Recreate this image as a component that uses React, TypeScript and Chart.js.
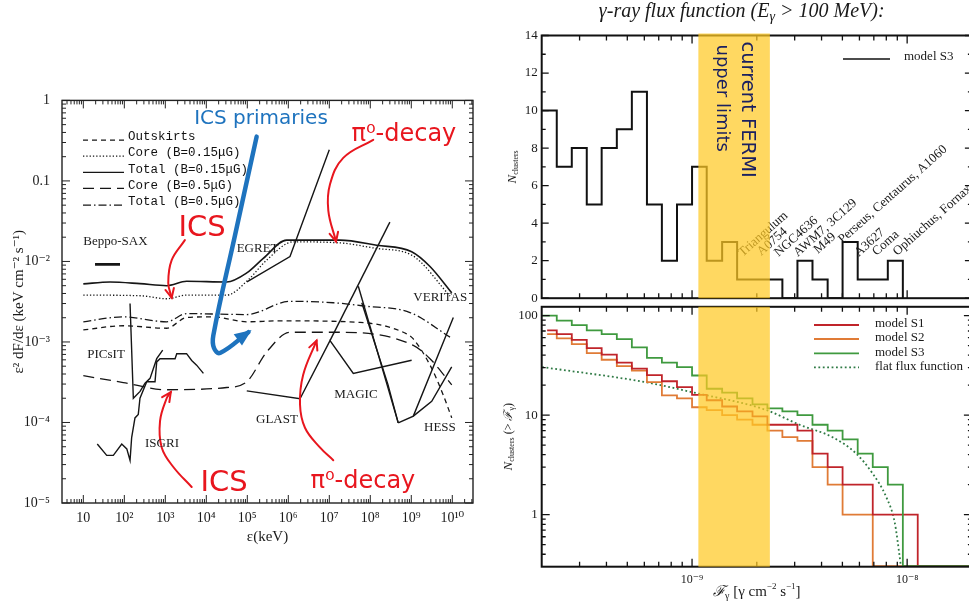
import React, { useEffect, useRef } from "react";
import { Chart, registerables } from "chart.js";

Chart.register(...registerables);

const SERIF = "'Liberation Serif','DejaVu Serif','Times New Roman',serif";
const MONO = "'Liberation Mono','DejaVu Sans Mono',monospace";
const SANS = "'DejaVu Sans','Open Sans',sans-serif";
const RED = "#e8161e";
const BLUE = "#1e73be";

// ================= LEFT PANEL DATA (energy keV, e^2 dF/de keV cm^-2 s^-1) =================
const energyTickValues = [10, 1e2, 1e3, 1e4, 1e5, 1e6, 1e7, 1e8, 1e9, 1e10];
const fluxTickValues = [1e-5, 1e-4, 1e-3, 1e-2, 0.1, 1];

const outskirtsE = [10, 94.6, 1080, 3300, 14800, 97000, 630000, 5.6e7, 7.7e8, 1.12e9, 3.15e9, 6.0e9, 9.7e9];
const outskirtsF = [1.41e-3, 1.59e-3, 1.48e-3, 2.01e-3, 2.05e-3, 1.78e-3, 1.83e-3, 1.75e-3, 1.26e-3, 1.09e-3, 4.7e-4, 2.2e-4, 1.14e-4];

const coreLowBE = [10, 241, 1080, 3300, 31500, 106000, 297000, 1.32e6, 1.82e7, 1.43e8, 1.02e9, 8.8e9];
const coreLowBF = [3.82e-3, 3.75e-3, 3.44e-3, 3.82e-3, 3.82e-3, 5.93e-3, 0.0104, 0.0175, 0.017, 0.0145, 0.012, 3.72e-3];

const totalLowBE = [10, 44.8, 241, 1080, 3300, 31500, 97000, 245000, 910000, 1.82e7, 1.43e8, 1.02e9, 2.86e9, 9.7e9];
const totalLowBF = [5.26e-3, 5.56e-3, 5.3e-3, 5.0e-3, 5.67e-3, 5.56e-3, 7.2e-3, 0.0109, 0.0184, 0.0184, 0.0159, 0.0132, 8.65e-3, 4.07e-3];

const coreHighBE = [10, 94.6, 1080, 31500, 97000, 297000, 1.1e6, 1.5e7, 1.12e9, 2.86e9, 9.7e9];
const coreHighBF = [3.81e-4, 3.13e-4, 2.55e-4, 2.72e-4, 3.2e-4, 7.5e-4, 1.32e-3, 1.32e-3, 9.06e-4, 6.2e-4, 2.93e-4];

const totalHighBE = [10, 94.6, 1080, 3300, 97000, 1.1e6, 1.25e7, 6.75e7, 9.3e8, 8.8e9];
const totalHighBF = [1.78e-3, 2.05e-3, 1.78e-3, 2.25e-3, 2.19e-3, 3.2e-3, 3.07e-3, 2.8e-3, 2.32e-3, 1.15e-3];

// instrument sensitivities
const beppoE = [19.3, 78.5];
const beppoF = [9.2e-3, 9.2e-3];
const picsitE = [138, 166, 242, 320, 424, 617, 864];
const picsitF = [3.0e-3, 2.0e-4, 2.43e-4, 3.07e-4, 3.53e-4, 6.2e-4, 7.9e-4];
const isgriE = [21.9, 37.2, 54, 86.5, 115, 138, 151, 182, 219, 241, 352, 561, 617, 743, 1730, 1900, 3300, 4400, 5800, 8500];
const isgriF = [5.4e-5, 3.9e-5, 3.9e-5, 5.4e-5, 4.7e-5, 3.37e-5, 6.5e-5, 1.14e-4, 1.26e-4, 2.0e-4, 3.2e-4, 3.2e-4, 5.65e-4, 6.2e-4, 6.2e-4, 7.15e-4, 7.15e-4, 5.9e-4, 5.15e-4, 4.07e-4];
const egretE = [9.8e4, 1.1e6, 1.0e7];
const egretF = [5.56e-3, 0.0115, 0.244];
const glastE = [9.7e4, 1.93e6, 1.04e7, 3.85e7, 1.02e9];
const glastF = [2.47e-4, 1.97e-4, 1.04e-3, 4.07e-4, 5.93e-4];
const glastRiseE = [1.04e7, 3.0e8];
const glastRiseF = [1.04e-3, 0.0308];
const magicAE = [5.1e7, 4.8e8];
const magicAF = [4.92e-3, 9.9e-5];
const magicBE = [6.2e7, 2.7e8, 4.8e8];
const magicBF = [3.07e-3, 2.95e-4, 9.9e-5];
const veritasE = [4.8e8, 1.12e9, 1.06e10];
const veritasF = [9.9e-5, 1.2e-4, 2.01e-3];
const hessE = [1.12e9, 3.15e9, 9.67e9];
const hessF = [1.2e-4, 1.83e-4, 4.9e-4];

const instrumentNames = ["Beppo-SAX", "EGRET", "VERITAS", "PICsIT", "ISGRI", "GLAST", "MAGIC", "HESS"];
const instrumentLabelE = [10, 5.5e4, 1.12e9, 12.5, 320, 1.63e5, 1.32e7, 2.04e9];
const instrumentLabelF = [0.0175, 0.0145, 3.54e-3, 7.0e-4, 5.4e-5, 1.09e-4, 2.2e-4, 8.6e-5];

const legendNamesLeft = ["Outskirts", "Core (B=0.15\u03bcG)", "Total (B=0.15\u03bcG)", "Core (B=0.5\u03bcG)", "Total (B=0.5\u03bcG)"];

// annotations (in data coordinates)
const annotationTexts = ["ICS primaries", "\u03c0\u2070-decay", "ICS", "ICS", "\u03c0\u2070-decay"];
const annotationE = [2.16e5, 6.6e8, 7.85e3, 2.7e4, 6.6e7];
const annotationF = [0.593, 0.378, 0.0255, 1.73e-5, 1.86e-5];
const arrowPrimE = [1.69e5, 5.0e4, 1.48e4, 1.54e4, 2.16e4, 1.06e5];
const arrowPrimF = [0.355, 0.021, 1.2e-3, 8.4e-4, 7.3e-4, 1.32e-3];
const arrowPiTopE = [1.18e8, 2.19e7, 1.04e7, 9.46e6, 1.46e7];
const arrowPiTopF = [0.324, 0.193, 0.0908, 0.0428, 0.0177];
const arrowIcsTopE = [3.0e3, 1.43e3, 1.18e3, 1.43e3];
const arrowIcsTopF = [0.0184, 0.0104, 5.4e-3, 3.54e-3];
const arrowIcsBotE = [4.4e3, 1.57e3, 817, 743, 1.08e3, 1.36e3];
const arrowIcsBotF = [1.58e-5, 2.8e-5, 4.9e-5, 1.04e-4, 2.0e-4, 2.38e-4];
const arrowPiBotE = [1.25e7, 5.9e6, 2.55e6, 1.93e6, 2.3e6, 4.9e6];
const arrowPiBotF = [3.4e-5, 4.9e-5, 8.6e-5, 1.67e-4, 3.9e-4, 1.04e-3];

// ================= RIGHT PANEL DATA (flux gamma cm^-2 s^-1) =================
const fluxBinEdges = [2.0e-10, 2.35e-10, 2.76e-10, 3.24e-10, 3.8e-10, 4.47e-10, 5.25e-10, 6.17e-10, 7.24e-10, 8.51e-10,
  1.0e-9, 1.17e-9, 1.38e-9, 1.62e-9, 1.91e-9, 2.24e-9, 2.63e-9, 3.09e-9, 3.63e-9, 4.27e-9,
  5.01e-9, 5.89e-9, 6.92e-9, 8.13e-9, 9.55e-9, 1.12e-8, 1.32e-8, 1.55e-8, 1.82e-8, 2.14e-8];
const histS3 = [10, 7, 8, 5, 8, 9, 11, 5, 2, 5, 7, 2, 3, 1, 1, 1, 0, 2, 1, 0, 3, 1, 1, 2, 0];
const cumS1 = [71, 65, 57, 47, 40.5, 33.6, 29.3, 25.2, 21.9, 19.1, 16, 14.1, 12.2, 10.9, 9.7, 8.0, 8.0, 7.0, 4.1, 3.0, 2, 2, 1, 1, 1, 0];
const cumS2 = [65, 59, 51.6, 42, 36, 31, 28, 21.4, 15.8, 14.7, 12, 11.2, 10, 9, 8, 7, 6, 5.5, 3, 2, 1, 1, 0];
const cumS3 = [100, 89, 80, 71, 65, 58, 48, 37.6, 33.6, 30.4, 25, 18.4, 16.8, 14.7, 12.8, 11.7, 10.9, 10, 8, 7, 5.7, 4.1, 3, 2, 0];
const s12StartFlux = 2.12e-10;
const flatFluxF = [2.01e-10, 6.1e-10, 1.0e-9, 2.2e-9, 3.16e-9, 4.5e-9, 5.8e-9, 6.9e-9, 8.0e-9, 8.75e-9, 9.2e-9, 9.35e-9];
const flatFluxN = [30.4, 21.4, 17, 11.3, 8, 6, 4.1, 2.6, 1.5, 0.84, 0.4, 0.304];
const fermiBand = [1.07e-9, 2.3e-9];
const countTicks = [0, 2, 4, 6, 8, 10, 12, 14];
const cumTicks = [1, 10, 100];
const fluxDecadeTicks = [1e-9, 1e-8];

const clusterNames = ["Triangulum", "A0754", "NGC4636", "AWM7, 3C129", "M49", "Perseus, Centaurus, A1060", "A3627", "Coma", "Ophiuchus, Fornax"];
const clusterLabelFlux = [1.72e-9, 2.1e-9, 2.52e-9, 3.1e-9, 3.85e-9, 5.0e-9, 5.95e-9, 7.2e-9, 9.0e-9];
const clusterLabelN = [2.2, 2.25, 2.2, 2.2, 2.35, 2.9, 2.2, 2.25, 2.25];

const modelNames = ["model S1", "model S2", "model S3", "flat flux function"];
const modelColors = ["#c0242a", "#e07b36", "#3f9a3f", "#2f7a45"];

// ================= helpers =================
const SUP: Record<string, string> = { "-": "\u207b", "0": "\u2070", "1": "\u00b9", "2": "\u00b2", "3": "\u00b3", "4": "\u2074", "5": "\u2075", "6": "\u2076", "7": "\u2077", "8": "\u2078", "9": "\u2079" };
const sup = (n: number) => String(n).split("").map((c) => SUP[c] || c).join("");
const decadeLabel = (v: number) => {
  const e = Math.round(Math.log10(v));
  return e === 1 ? "10" : "10" + sup(e);
};
const pts = (xs: number[], ys: number[]) => xs.map((x, i) => ({ x, y: ys[i] }));
function logMinors(min: number, max: number) {
  const out: number[] = [];
  for (let e = Math.floor(Math.log10(min)) - 1; e <= Math.ceil(Math.log10(max)); e++)
    for (let m = 2; m <= 9; m++) {
      const v = m * Math.pow(10, e);
      if (v > min && v < max) out.push(v);
    }
  return out;
}
function logMajors(min: number, max: number) {
  const out: number[] = [];
  for (let e = Math.ceil(Math.log10(min) - 1e-9); e <= Math.floor(Math.log10(max) + 1e-9); e++) out.push(Math.pow(10, e));
  return out;
}
type Side = "top" | "bottom" | "left" | "right";
function inTicks(chart: any, axis: string, values: number[], len: number, sides: Side[]) {
  const ctx = chart.ctx;
  const a = chart.chartArea;
  const s = chart.scales[axis];
  ctx.beginPath();
  values.forEach((v) => {
    const p = s.getPixelForValue(v);
    sides.forEach((side) => {
      if (side === "bottom") { ctx.moveTo(p, a.bottom); ctx.lineTo(p, a.bottom - len); }
      if (side === "top") { ctx.moveTo(p, a.top); ctx.lineTo(p, a.top + len); }
      if (side === "left") { ctx.moveTo(a.left, p); ctx.lineTo(a.left + len, p); }
      if (side === "right") { ctx.moveTo(a.right, p); ctx.lineTo(a.right - len, p); }
    });
  });
  ctx.stroke();
}
type Part = { t: string; f: string; dy?: number };
function drawRich(ctx: CanvasRenderingContext2D, parts: Part[], x: number, y: number, rot: number, color: string) {
  ctx.save();
  ctx.translate(x, y);
  ctx.rotate(rot);
  ctx.fillStyle = color;
  ctx.textBaseline = "middle";
  ctx.textAlign = "left";
  let w = 0;
  parts.forEach((p) => { ctx.font = p.f; w += ctx.measureText(p.t).width; });
  let cx = -w / 2;
  parts.forEach((p) => { ctx.font = p.f; ctx.fillText(p.t, cx, p.dy || 0); cx += ctx.measureText(p.t).width; });
  ctx.restore();
}
function drawArrowHeads(chart: any) {
  const ctx = chart.ctx;
  chart.data.datasets.forEach((ds: any, i: number) => {
    if (!ds.arrowStyle) return;
    const el = chart.getDatasetMeta(i).data as any[];
    const n = el.length;
    const tip = el[n - 1];
    let fx = tip.cp1x, fy = tip.cp1y;
    if (fx === undefined || Math.hypot(tip.x - fx, tip.y - fy) < 1) { fx = el[n - 2].x; fy = el[n - 2].y; }
    const ang = Math.atan2(tip.y - fy, tip.x - fx);
    ctx.save();
    ctx.strokeStyle = ds.borderColor;
    ctx.fillStyle = ds.borderColor;
    if (ds.arrowStyle === "filled") {
      const L = 13, W = 7;
      ctx.beginPath();
      ctx.moveTo(tip.x + Math.cos(ang) * 4, tip.y + Math.sin(ang) * 4);
      ctx.lineTo(tip.x - Math.cos(ang) * L + Math.sin(ang) * W, tip.y - Math.sin(ang) * L - Math.cos(ang) * W);
      ctx.lineTo(tip.x - Math.cos(ang) * L - Math.sin(ang) * W, tip.y - Math.sin(ang) * L + Math.cos(ang) * W);
      ctx.closePath();
      ctx.fill();
    } else {
      const L = 10, spread = 0.45;
      ctx.lineWidth = 2;
      ctx.lineCap = "round";
      ctx.beginPath();
      ctx.moveTo(tip.x - Math.cos(ang - spread) * L, tip.y - Math.sin(ang - spread) * L);
      ctx.lineTo(tip.x, tip.y);
      ctx.lineTo(tip.x - Math.cos(ang + spread) * L, tip.y - Math.sin(ang + spread) * L);
      ctx.stroke();
    }
    ctx.restore();
  });
}

const noGrid = { display: false, drawTicks: false };

// ================= LEFT CHART =================
const L_MIN_X = 3.02, L_MAX_X = 3.2e10, L_MIN_Y = 1e-5, L_MAX_Y = 1;
const dashOutskirts = [5, 4];
const dashCoreLow = [1.3, 2];
const dashCoreHigh = [11, 6];
const dashTotalHigh = [8, 3, 1.5, 3];

function makeLeft(canvas: HTMLCanvasElement) {
  const curve = (data: any, dash: number[], extra: any = {}) => ({
    data, borderColor: "#161616", borderWidth: 1.3, borderDash: dash, pointRadius: 0, fill: false,
    cubicInterpolationMode: "monotone", order: 3, ...extra,
  });
  const instr = (data: any, extra: any = {}) => ({
    data, borderColor: "#161616", borderWidth: 1.4, pointRadius: 0, fill: false, tension: 0, order: 2, ...extra,
  });
  const arrow = (data: any, color: string, style: string, width: number) => ({
    data, borderColor: color, borderWidth: width, pointRadius: 0, fill: false, tension: 0.4, order: 0,
    arrowStyle: style, borderCapStyle: "round",
  });
  const decor = {
    id: "leftDecor",
    afterDatasetsDraw(chart: any) {
      const { ctx, chartArea: a, scales } = chart;
      ctx.save();
      drawArrowHeads(chart);
      ctx.strokeStyle = "#222";
      ctx.lineWidth = 1.4;
      ctx.strokeRect(a.left, a.top, a.right - a.left, a.bottom - a.top);
      ctx.lineWidth = 1;
      inTicks(chart, "x", logMajors(L_MIN_X, L_MAX_X), 8, ["top", "bottom"]);
      inTicks(chart, "x", logMinors(L_MIN_X, L_MAX_X), 4, ["top", "bottom"]);
      inTicks(chart, "y", logMajors(L_MIN_Y, L_MAX_Y), 8, ["left", "right"]);
      inTicks(chart, "y", logMinors(L_MIN_Y, L_MAX_Y), 4, ["left", "right"]);
      // instrument labels
      ctx.fillStyle = "#1a1a1a";
      ctx.font = `13px ${SERIF}`;
      ctx.textBaseline = "middle";
      ctx.textAlign = "left";
      instrumentNames.forEach((t, i) => {
        ctx.fillText(t, scales.x.getPixelForValue(instrumentLabelE[i]), scales.y.getPixelForValue(instrumentLabelF[i]));
      });
      // annotations
      ctx.textAlign = "center";
      annotationTexts.forEach((t, i) => {
        const isBlue = i === 0;
        ctx.fillStyle = isBlue ? BLUE : RED;
        ctx.font = isBlue ? `20px ${SANS}` : t === "ICS" ? `29px ${SANS}` : `24px ${SANS}`;
        ctx.fillText(t, scales.x.getPixelForValue(annotationE[i]), scales.y.getPixelForValue(annotationF[i]));
      });
      // legend
      const dashes = [dashOutskirts, dashCoreLow, [], dashCoreHigh, dashTotalHigh];
      const rowY = [36.7, 52.7, 69, 85, 101.7];
      ctx.font = `12.5px ${MONO}`;
      ctx.textAlign = "left";
      ctx.fillStyle = "#111";
      legendNamesLeft.forEach((t, i) => {
        const y = a.top + rowY[i];
        ctx.strokeStyle = "#161616";
        ctx.lineWidth = 1.3;
        ctx.setLineDash(dashes[i]);
        ctx.beginPath();
        ctx.moveTo(a.left + 21, y + 3);
        ctx.lineTo(a.left + 62, y + 3);
        ctx.stroke();
        ctx.setLineDash([]);
        ctx.fillText(t, a.left + 66, y);
      });
      // axis titles
      ctx.fillStyle = "#1a1a1a";
      ctx.font = `15px ${SERIF}`;
      ctx.textAlign = "center";
      ctx.fillText("\u03b5(keV)", (a.left + a.right) / 2, 457);
      ctx.save();
      ctx.translate(19, (a.top + a.bottom) / 2);
      ctx.rotate(-Math.PI / 2);
      ctx.fillText("\u03b5\u00b2 dF/d\u03b5 (keV cm\u207b\u00b2 s\u207b\u00b9)", 0, 0);
      ctx.restore();
      ctx.restore();
    },
  };
  return new Chart(canvas, {
    type: "line",
    data: {
      datasets: [
        arrow(pts(arrowPrimE, arrowPrimF), BLUE, "filled", 4.5),
        arrow(pts(arrowPiTopE, arrowPiTopF), RED, "open", 2),
        arrow(pts(arrowIcsTopE, arrowIcsTopF), RED, "open", 2),
        arrow(pts(arrowIcsBotE, arrowIcsBotF), RED, "open", 2),
        arrow(pts(arrowPiBotE, arrowPiBotF), RED, "open", 2),
        curve(pts(outskirtsE, outskirtsF), dashOutskirts),
        curve(pts(coreLowBE, coreLowBF), dashCoreLow),
        curve(pts(totalLowBE, totalLowBF), [], { borderWidth: 1.6 }),
        curve(pts(coreHighBE, coreHighBF), dashCoreHigh),
        curve(pts(totalHighBE, totalHighBF), dashTotalHigh),
        instr(pts(beppoE, beppoF), { borderWidth: 2.6 }),
        instr(pts(picsitE, picsitF)),
        instr(pts(isgriE, isgriF)),
        instr(pts(egretE, egretF)),
        instr(pts(glastE, glastF)),
        instr(pts(glastRiseE, glastRiseF)),
        instr(pts(magicAE, magicAF)),
        instr(pts(magicBE, magicBF)),
        instr(pts(veritasE, veritasF)),
        instr(pts(hessE, hessF)),
      ] as any,
    },
    options: {
      responsive: false,
      animation: false,
      devicePixelRatio: 1,
      events: [],
      plugins: { legend: { display: false }, tooltip: { enabled: false } },
      layout: { padding: { left: 0, right: 7, top: 15, bottom: 0 } },
      scales: {
        x: {
          type: "logarithmic", min: L_MIN_X, max: L_MAX_X,
          grid: noGrid, border: { display: false },
          afterFit: (s: any) => { s.height = 47; },
          afterBuildTicks: (s: any) => { s.ticks = energyTickValues.map((v) => ({ value: v })); },
          ticks: { autoSkip: false, maxRotation: 0, padding: 7, color: "#1a1a1a", font: { family: SERIF, size: 14 }, callback: (v: any) => decadeLabel(Number(v)) },
        },
        y: {
          type: "logarithmic", min: L_MIN_Y, max: L_MAX_Y,
          grid: noGrid, border: { display: false },
          afterFit: (s: any) => { s.width = 62; },
          afterBuildTicks: (s: any) => { s.ticks = fluxTickValues.map((v) => ({ value: v })); },
          ticks: {
            autoSkip: false, padding: 12, color: "#1a1a1a", font: { family: SERIF, size: 14 },
            callback: (v: any) => { const n = Number(v); return n === 1 ? "1" : Math.abs(n - 0.1) < 1e-9 ? "0.1" : decadeLabel(n); },
          },
        },
      },
    } as any,
    plugins: [decor],
  });
}

// ================= RIGHT CHARTS =================
const R_MIN_X = 2.0e-10, R_MAX_X = 2.0e-8;
const C_MIN = 0.304, C_MAX = 122.5;

function drawBand(chart: any, yTop: number, yBot: number) {
  const { ctx, scales } = chart;
  const x0 = scales.x.getPixelForValue(fermiBand[0]);
  const x1 = scales.x.getPixelForValue(fermiBand[1]);
  ctx.save();
  ctx.fillStyle = "rgba(255,201,36,0.72)";
  ctx.fillRect(x0, yTop, x1 - x0, yBot - yTop);
  ctx.restore();
  return x0;
}

function makeTop(canvas: HTMLCanvasElement) {
  const histData = fluxBinEdges.slice(0, histS3.length).map((x, i) => ({ x, y: histS3[i] }));
  const decor = {
    id: "topDecor",
    afterDatasetsDraw(chart: any) {
      const { ctx, chartArea: a, scales } = chart;
      ctx.save();
      // cluster labels
      ctx.fillStyle = "#1a1a1a";
      ctx.font = `13px ${SERIF}`;
      ctx.textAlign = "left";
      ctx.textBaseline = "alphabetic";
      clusterNames.forEach((t, i) => {
        ctx.save();
        ctx.translate(scales.x.getPixelForValue(clusterLabelFlux[i]), scales.y.getPixelForValue(clusterLabelN[i]));
        ctx.rotate(-0.726);
        ctx.fillText(t, 0, 0);
        ctx.restore();
      });
      // frame and ticks
      ctx.strokeStyle = "#111";
      ctx.lineWidth = 2;
      ctx.strokeRect(a.left, a.top, a.right - a.left, a.bottom - a.top);
      ctx.lineWidth = 1.3;
      inTicks(chart, "x", logMajors(R_MIN_X, R_MAX_X), 8, ["top", "bottom"]);
      inTicks(chart, "x", logMinors(R_MIN_X, R_MAX_X), 5, ["top", "bottom"]);
      inTicks(chart, "y", countTicks, 7, ["left", "right"]);
      inTicks(chart, "y", countTicks.slice(0, -1).map((v) => v + 1), 4, ["left", "right"]);
      // band
      const bx = drawBand(chart, a.top - 2, a.bottom);
      ctx.fillStyle = "#1b2060";
      ctx.textBaseline = "middle";
      ctx.textAlign = "left";
      ctx.font = `19.5px ${SANS}`;
      ctx.save(); ctx.translate(bx + 49, a.top + 6); ctx.rotate(Math.PI / 2); ctx.fillText("current FERMI", 0, 0); ctx.restore();
      ctx.font = `18px ${SANS}`;
      ctx.save(); ctx.translate(bx + 23, a.top + 9); ctx.rotate(Math.PI / 2); ctx.fillText("upper limits", 0, 0); ctx.restore();
      // legend
      ctx.strokeStyle = "#111";
      ctx.lineWidth = 1.5;
      ctx.beginPath(); ctx.moveTo(343, 59); ctx.lineTo(390, 59); ctx.stroke();
      ctx.fillStyle = "#1a1a1a";
      ctx.font = `13px ${SERIF}`;
      ctx.fillText("model S3", 404, 57);
      // title
      const it = `italic 20px ${SERIF}`;
      drawRich(ctx, [
        { t: "\u03b3-ray flux function (E", f: it },
        { t: "\u03b3", f: `italic 14px ${SERIF}`, dy: 5 },
        { t: " > 100 MeV):", f: it },
      ], 241.7, 12, 0, "#1a1a1a");
      // y title
      drawRich(ctx, [
        { t: "N", f: `italic 13px ${SERIF}` },
        { t: "clusters", f: `8px ${SERIF}`, dy: 3 },
      ], 12.5, (a.top + a.bottom) / 2, -Math.PI / 2, "#1a1a1a");
      ctx.restore();
    },
  };
  return new Chart(canvas, {
    type: "line",
    data: {
      datasets: [
        {
          data: [...histData, { x: fluxBinEdges[histS3.length - 1], y: 0 }],
          borderColor: "#111", borderWidth: 2, pointRadius: 0, stepped: true, fill: false,
        },
      ] as any,
    },
    options: {
      responsive: false,
      animation: false,
      devicePixelRatio: 1,
      events: [],
      plugins: { legend: { display: false }, tooltip: { enabled: false } },
      layout: { padding: { left: 0, right: 8.1, top: 35.5, bottom: 0 } },
      scales: {
        x: {
          type: "logarithmic", min: R_MIN_X, max: R_MAX_X,
          grid: noGrid, border: { display: false },
          afterFit: (s: any) => { s.height = 9; },
          ticks: { display: false },
        },
        y: {
          type: "linear", min: 0, max: 14,
          grid: noGrid, border: { display: false },
          afterFit: (s: any) => { s.width = 41.7; },
          afterBuildTicks: (s: any) => { s.ticks = countTicks.map((v) => ({ value: v })); },
          ticks: { autoSkip: false, padding: 4, color: "#1a1a1a", font: { family: SERIF, size: 13 } },
        },
      },
    } as any,
    plugins: [decor],
  });
}

function makeBottom(canvas: HTMLCanvasElement) {
  const floor = (v: number) => (v > 0 ? v : C_MIN);
  const stepData = (vals: number[], start?: number) => {
    const d = vals.map((v, i) => ({ x: i === 0 && start ? start : fluxBinEdges[i], y: floor(v) }));
    d.push({ x: R_MAX_X * 1.05, y: floor(vals[vals.length - 1]) });
    return d;
  };
  const stepDs = (data: any, color: string, order: number) => ({
    data, borderColor: color, borderWidth: 1.8, pointRadius: 0, stepped: true, fill: false, order,
  });
  const decor = {
    id: "botDecor",
    afterDatasetsDraw(chart: any) {
      const { ctx, chartArea: a } = chart;
      ctx.save();
      ctx.strokeStyle = "#111";
      ctx.lineWidth = 2;
      ctx.strokeRect(a.left, a.top, a.right - a.left, a.bottom - a.top);
      ctx.lineWidth = 1.3;
      inTicks(chart, "x", logMajors(R_MIN_X, R_MAX_X), 8, ["top", "bottom"]);
      inTicks(chart, "x", logMinors(R_MIN_X, R_MAX_X), 5, ["top", "bottom"]);
      inTicks(chart, "y", logMajors(C_MIN, C_MAX), 8, ["left", "right"]);
      inTicks(chart, "y", logMinors(C_MIN, C_MAX), 4, ["left", "right"]);
      drawBand(chart, a.top, a.bottom);
      // legend
      const rows = [30, 44, 58.3, 72.3];
      ctx.font = `13px ${SERIF}`;
      ctx.textBaseline = "middle";
      ctx.textAlign = "left";
      modelNames.forEach((t, i) => {
        ctx.strokeStyle = modelColors[i];
        ctx.lineWidth = 1.8;
        ctx.setLineDash(i === 3 ? [1.8, 2.6] : []);
        ctx.beginPath(); ctx.moveTo(314, rows[i]); ctx.lineTo(359, rows[i]); ctx.stroke();
        ctx.setLineDash([]);
        ctx.fillStyle = "#1a1a1a";
        ctx.fillText(t, 375, rows[i] - 1);
      });
      // x title
      drawRich(ctx, [
        { t: "\u2131", f: `italic 15px ${SERIF}` },
        { t: "\u03b3", f: `10px ${SERIF}`, dy: 4 },
        { t: " [\u03b3 cm", f: `15px ${SERIF}` },
        { t: "\u22122", f: `9px ${SERIF}`, dy: -5 },
        { t: " s", f: `15px ${SERIF}` },
        { t: "\u22121", f: `9px ${SERIF}`, dy: -5 },
        { t: "]", f: `15px ${SERIF}` },
      ], (a.left + a.right) / 2, 297, 0, "#1a1a1a");
      // y title
      drawRich(ctx, [
        { t: "N", f: `italic 13px ${SERIF}` },
        { t: "clusters", f: `8px ${SERIF}`, dy: 3 },
        { t: " (> ", f: `12px ${SERIF}` },
        { t: "\u2131", f: `italic 12px ${SERIF}` },
        { t: "\u03b3", f: `8px ${SERIF}`, dy: 3 },
        { t: ")", f: `12px ${SERIF}` },
      ], 8.5, (a.top + a.bottom) / 2, -Math.PI / 2, "#1a1a1a");
      ctx.restore();
    },
  };
  return new Chart(canvas, {
    type: "line",
    data: {
      datasets: [
        stepDs(stepData(cumS3), modelColors[2], 0),
        stepDs(stepData(cumS1, s12StartFlux), modelColors[0], 1),
        stepDs(stepData(cumS2, s12StartFlux), modelColors[1], 2),
        {
          data: pts(flatFluxF, flatFluxN), borderColor: modelColors[3], borderWidth: 1.8, borderDash: [1.8, 2.6],
          pointRadius: 0, fill: false, cubicInterpolationMode: "monotone", order: 3,
        },
      ] as any,
    },
    options: {
      responsive: false,
      animation: false,
      devicePixelRatio: 1,
      events: [],
      plugins: { legend: { display: false }, tooltip: { enabled: false } },
      layout: { padding: { left: 0, right: 8.1, top: 6, bottom: 0 } },
      scales: {
        x: {
          type: "logarithmic", min: R_MIN_X, max: R_MAX_X,
          grid: noGrid, border: { display: false },
          afterFit: (s: any) => { s.height = 38.3; },
          afterBuildTicks: (s: any) => { s.ticks = fluxDecadeTicks.map((v) => ({ value: v })); },
          ticks: { autoSkip: false, maxRotation: 0, padding: 6, color: "#1a1a1a", font: { family: SERIF, size: 12 }, callback: (v: any) => decadeLabel(Number(v)) },
        },
        y: {
          type: "logarithmic", min: C_MIN, max: C_MAX,
          grid: noGrid, border: { display: false },
          afterFit: (s: any) => { s.width = 41.7; },
          afterBuildTicks: (s: any) => { s.ticks = cumTicks.map((v) => ({ value: v })); },
          ticks: { autoSkip: false, padding: 4, color: "#1a1a1a", font: { family: SERIF, size: 13 }, callback: (v: any) => String(Number(v)) },
        },
      },
    } as any,
    plugins: [decor],
  });
}

export default function App() {
  const leftRef = useRef<HTMLCanvasElement>(null);
  const topRef = useRef<HTMLCanvasElement>(null);
  const botRef = useRef<HTMLCanvasElement>(null);
  useEffect(() => {
    const charts = [makeLeft(leftRef.current!), makeTop(topRef.current!), makeBottom(botRef.current!)];
    return () => charts.forEach((c) => c.destroy());
  }, []);
  const box = (left: number, top: number, w: number, h: number): React.CSSProperties => ({ position: "absolute", left, top, width: w, height: h });
  return (
    <div style={{ position: "fixed", left: 0, top: 0, width: 969, height: 605, overflow: "hidden", background: "#fff" }}>
      <div style={box(0, 80, 480, 470)}>
        <canvas ref={leftRef} width={480} height={470} style={{ display: "block", width: 480, height: 470 }} />
      </div>
      <div style={box(500, 0, 480, 310)}>
        <canvas ref={topRef} width={480} height={310} style={{ display: "block", width: 480, height: 310 }} />
      </div>
      <div style={box(500, 295, 480, 310)}>
        <canvas ref={botRef} width={480} height={310} style={{ display: "block", width: 480, height: 310 }} />
      </div>
    </div>
  );
}
